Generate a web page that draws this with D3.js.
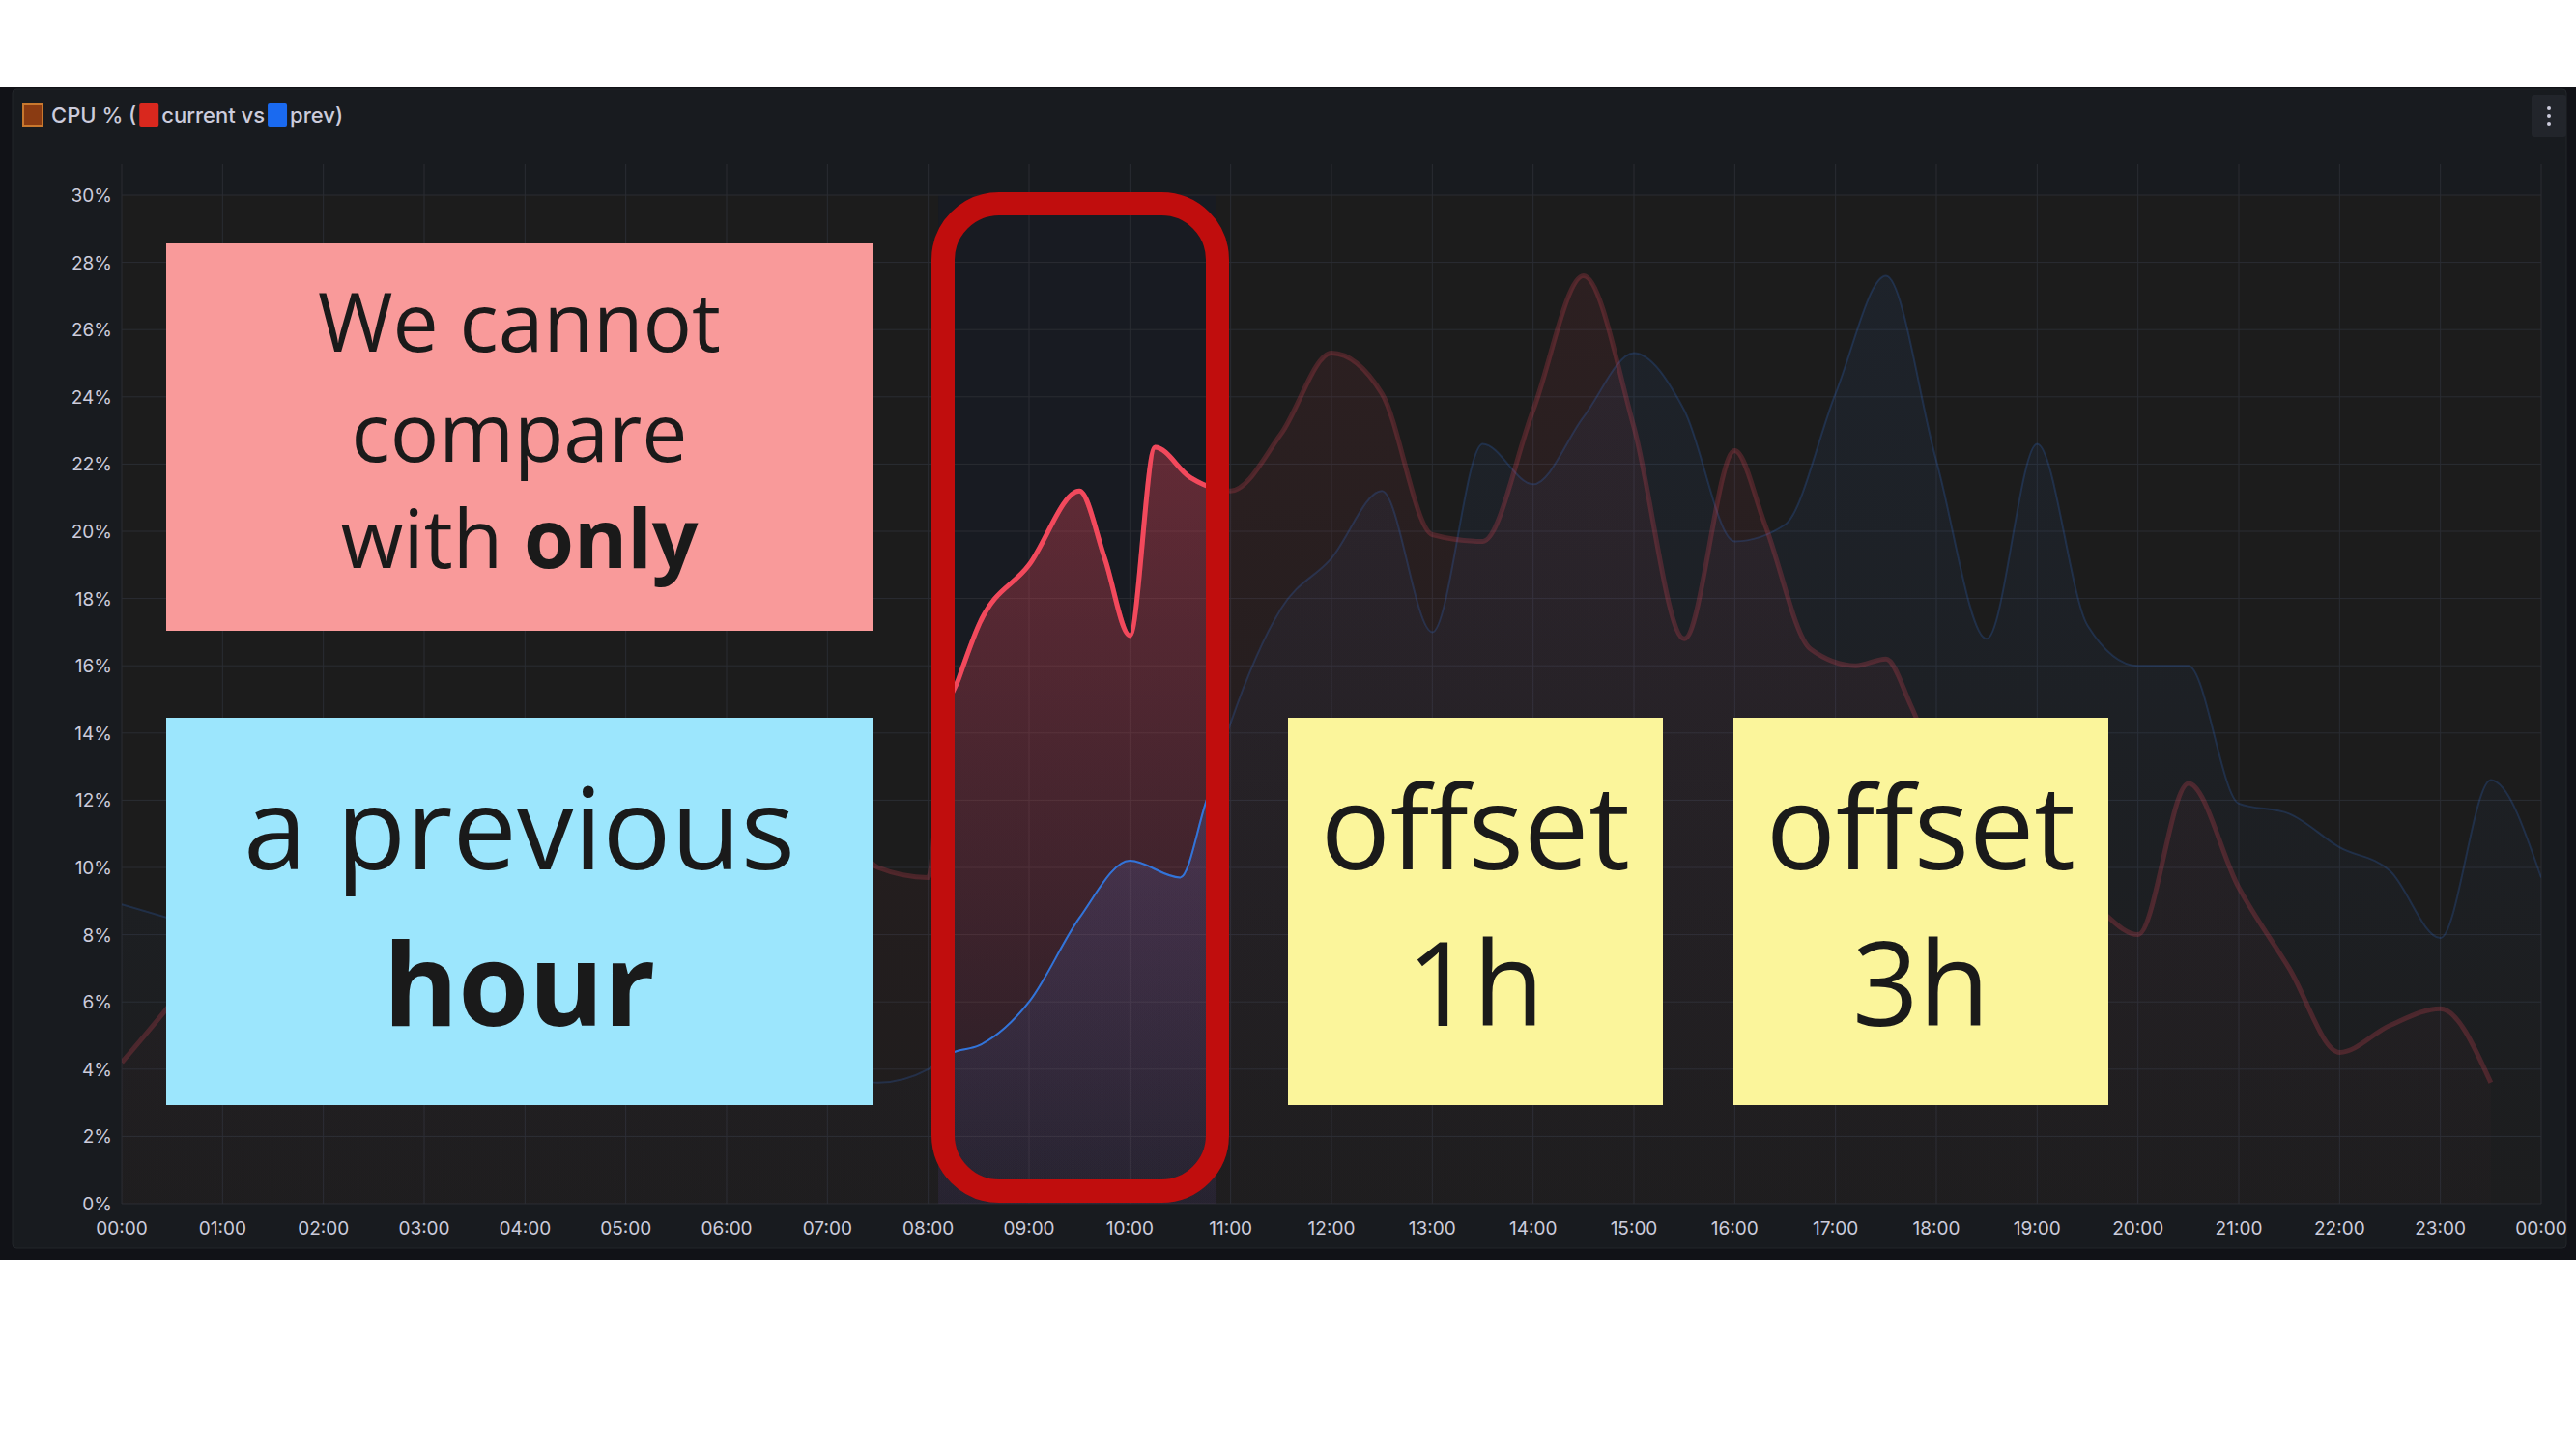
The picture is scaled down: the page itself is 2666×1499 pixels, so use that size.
<!DOCTYPE html>
<html><head><meta charset="utf-8">
<script src="https://cdn.jsdelivr.net/npm/d3@7"></script>
<style>body{margin:0;background:#fff}svg{display:block}</style></head>
<body><svg id="c" width="2666" height="1499"></svg>
<script>
const yTicks=[0,2,4,6,8,10,12,14,16,18,20,22,24,26,28,30];
const xTickLabels=["00:00","01:00","02:00","03:00","04:00","05:00","06:00","07:00","08:00","09:00","10:00","11:00","12:00","13:00","14:00","15:00","16:00","17:00","18:00","19:00","20:00","21:00","22:00","23:00","00:00"];
const currentHours=[0,0.5,1,2,3,4,5,6,7,7.5,8,8.15,8.3,8.5,9,9.5,9.75,10,10.25,10.6,11,11.5,12,12.5,13,13.5,14,14.5,15,15.5,16,16.3,16.75,17.2,17.5,17.75,18,18.5,19,19.5,20,20.5,21,21.5,22,22.5,23,23.5];
const currentVals=[4.2,6,8,9,8.5,10,9.5,11,12,10,9.7,14.3,15.6,17.2,19,21.2,19.2,16.9,22.5,21.6,21.2,22.9,25.3,24.1,19.9,19.7,23.6,27.6,23.1,16.8,22.4,20.2,16.5,16,16.2,14.8,13,11,9.5,9,8,12.5,9.4,7,4.5,5.3,5.8,3.6];
const prevHours=[0,1,2,3,4,5,6,7,7.5,8,8.25,8.5,9,9.5,10,10.5,10.75,11,11.5,12,12.5,13,13.5,14,14.5,15,15.5,16,16.5,17,17.5,18,18.5,19,19.5,20,20.5,21,21.5,22,22.5,23,23.5,24];
const prevVals=[8.9,8,7,6.5,6,5.5,5,4,3.6,4,4.5,4.7,6,8.5,10.2,9.7,11.9,14.3,17.7,19.2,21.2,17,22.6,21.4,23.4,25.3,23.6,19.7,20.2,24.1,27.6,22.1,16.8,22.6,17.2,16,16,11.9,11.6,10.6,9.9,7.9,12.6,9.7];

const svg=d3.select("#c");
const X0=126,X1=2630,Y0=1246,Y1=202;
const x=d3.scaleLinear().domain([0,24]).range([X0,X1]);
const y=d3.scaleLinear().domain([0,30]).range([Y0,Y1]);
const hl=[8.1,10.85];

svg.append("rect").attr("x",0).attr("y",90).attr("width",2666).attr("height",1214).attr("fill","#111217");
svg.append("rect").attr("x",13).attr("y",92).attr("width",2643).attr("height",1200).attr("rx",4).attr("fill","#181b1f").attr("stroke","#23262b");
svg.append("rect").attr("x",X0).attr("y",Y1).attr("width",X1-X0).attr("height",Y0-Y1).attr("fill","#1c1c1c");
svg.append("rect").attr("x",x(hl[0])).attr("y",Y1).attr("width",x(hl[1])-x(hl[0])).attr("height",Y0-Y1).attr("fill","#181b22");

// grid
svg.append("g").selectAll("line").data(d3.range(0,25)).join("line")
 .attr("x1",d=>x(d)).attr("x2",d=>x(d)).attr("y1",170).attr("y2",Y0).attr("stroke","#2a2d33").attr("stroke-width",1);
svg.append("g").selectAll("line").data(yTicks).join("line")
 .attr("x1",X0).attr("x2",X1).attr("y1",d=>y(d)).attr("y2",d=>y(d)).attr("stroke","#2a2d33").attr("stroke-width",1);

// axes labels
svg.append("g").selectAll("text").data(yTicks).join("text")
 .attr("x",116).attr("y",d=>y(d)+7).attr("text-anchor","end").attr("fill","#ccccdc")
 .attr("font-family","Inter, sans-serif").attr("font-size",19).text(d=>d+"%");
svg.append("g").selectAll("text").data(xTickLabels).join("text")
 .attr("x",(d,i)=>x(i)).attr("y",1278).attr("text-anchor","middle").attr("fill","#ccccdc")
 .attr("font-family","Inter, sans-serif").attr("font-size",19).text(d=>d);

const defs=svg.append("defs");
function grad(id,c){const g=defs.append("linearGradient").attr("id",id).attr("x1",0).attr("x2",0).attr("y1",0).attr("y2",1);
 g.append("stop").attr("offset",0).attr("stop-color",c).attr("stop-opacity",0.35);
 g.append("stop").attr("offset",1).attr("stop-color",c).attr("stop-opacity",0.05);}
grad("gr","#f2495c");grad("gb","#3274d9");
defs.append("clipPath").attr("id","hlc").append("rect").attr("x",x(hl[0])).attr("y",Y1-50).attr("width",x(hl[1])-x(hl[0])).attr("height",Y0-Y1+50);
defs.append("clipPath").attr("id","plot").append("rect").attr("x",X0).attr("y",Y1-50).attr("width",X1-X0).attr("height",Y0-Y1+50);

const cur=currentHours.map((h,i)=>[h,currentVals[i]]);
const prv=prevHours.map((h,i)=>[h,prevVals[i]]);
const line=d3.line().x(d=>x(d[0])).y(d=>y(d[1])).curve(d3.curveMonotoneX);
const area=d3.area().x(d=>x(d[0])).y0(Y0).y1(d=>y(d[1])).curve(d3.curveMonotoneX);

function draw(g,op){
 g.append("path").attr("d",area(prv)).attr("fill","url(#gb)").attr("opacity",op);
 g.append("path").attr("d",area(cur)).attr("fill","url(#gr)").attr("opacity",op);
 g.append("path").attr("d",line(prv)).attr("fill","none").attr("stroke","#3274d9").attr("stroke-width",2).attr("opacity",op);
 g.append("path").attr("d",line(cur)).attr("fill","none").attr("stroke","#f2495c").attr("stroke-width",5).attr("opacity",op);
}
draw(svg.append("g").attr("clip-path","url(#plot)"),0.22);
draw(svg.append("g").attr("clip-path","url(#hlc)"),1);

// title
const tg=svg.append("g");
let tx=24;
tg.append("rect").attr("x",tx).attr("y",108).attr("width",20).attr("height",22).attr("fill","#8a3b12").attr("stroke","#c8782e").attr("stroke-width",2);
tx=53;
function tt(s){const t=tg.append("text").attr("x",tx).attr("y",127).attr("fill","#ccccdc").attr("font-family","Inter, sans-serif").attr("font-size",22).attr("font-weight",500).text(s);tx+=t.node().getComputedTextLength()+3;}
function sq(c){tg.append("rect").attr("x",tx).attr("y",107).attr("width",20).attr("height",24).attr("rx",2).attr("fill",c);tx+=23;}
tt("CPU % (");sq("#d9281e");tt("current vs");sq("#1a6af0");tt("prev)");
svg.append("rect").attr("x",2620).attr("y",98).attr("width",36).attr("height",44).attr("rx",3).attr("fill","#22252b");
[-8,0,8].forEach(d=>svg.append("circle").attr("cx",2638).attr("cy",120+d).attr("r",2).attr("fill","#ccccdc"));

// boxes
const F="'Open Sans','Noto Sans',sans-serif";
function box(x0,y0,w,h,c,lines){
 svg.append("rect").attr("x",x0).attr("y",y0).attr("width",w).attr("height",h).attr("fill",c);
 lines.forEach(l=>{const t=svg.append("text").attr("x",x0+w/2).attr("y",l.y).attr("text-anchor","middle").attr("fill","#1a1a1a").attr("font-family",F).attr("font-size",l.s);
  l.parts.forEach(p=>t.append("tspan").attr("font-weight",p[1]?700:400).text(p[0]));});
}
box(172,252,731,401,"#f99a9a",[{y:364,s:84,parts:[["We cannot"]]},{y:478,s:84,parts:[["compare"]]},{y:588,s:84,parts:[["with "],["only",1]]}]);
box(172,743,731,401,"#9ce6fd",[{y:900,s:118,parts:[["a previous"]]},{y:1062,s:118,parts:[["hour",1]]}]);
box(1333,743,388,401,"#fbf59b",[{y:900,s:120,parts:[["offset"]]},{y:1062,s:120,parts:[["1h"]]}]);
box(1794,743,388,401,"#fbf59b",[{y:900,s:120,parts:[["offset"]]},{y:1062,s:120,parts:[["3h"]]}]);

svg.append("rect").attr("x",976).attr("y",211).attr("width",284).attr("height",1022).attr("rx",58).attr("fill","none").attr("stroke","#c00d0d").attr("stroke-width",24);
</script></body></html>
